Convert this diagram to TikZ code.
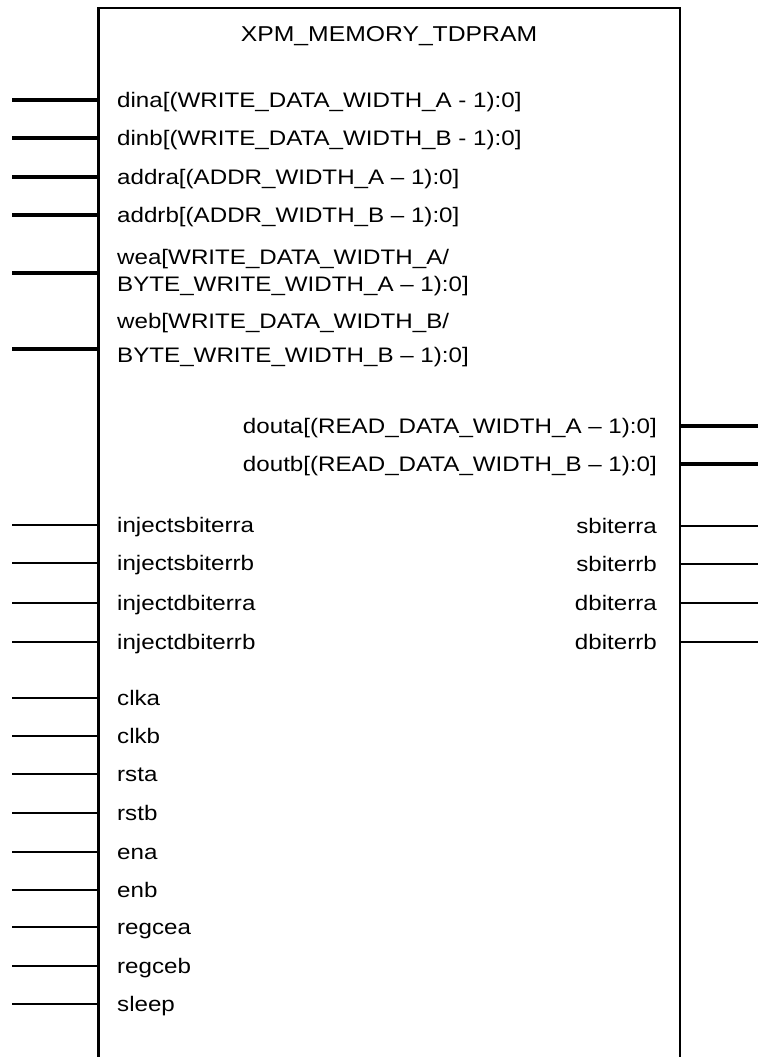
\documentclass[tikz,border=0pt]{standalone}
\usepackage{fontspec}
\setmainfont{Liberation Sans}[FakeStretch=1.15]
\usetikzlibrary{positioning}

\begin{document}
\begin{tikzpicture}[x=1pt, y=-1pt,
  body/.style={draw, line width=2.4pt, outer sep=0pt, inner sep=0pt,
               minimum width=581.7pt, minimum height=1100pt},
  lbl/.style={font=\fontsize{21}{32}\selectfont, inner sep=0pt, align=left},
  buswire/.style={line width=4pt},
  bitwire/.style={line width=1.2pt}
]
\useasboundingbox (0,0) rectangle (758,1057);

% block outline, open at the bottom of the page
\node[body, anchor=north west] (mem) at (98.3,8) {};
\node[lbl, font=\fontsize{21.5}{26}\selectfont, anchor=base] (title) at (389,42) {XPM\_MEMORY\_TDPRAM};

% input busses
\foreach \pname/\ptext/\py in {
    dina/{dina[(WRITE\_DATA\_WIDTH\_A - 1):0]}/100,
    dinb/{dinb[(WRITE\_DATA\_WIDTH\_B - 1):0]}/138,
    addra/{addra[(ADDR\_WIDTH\_A – 1):0]}/177,
    addrb/{addrb[(ADDR\_WIDTH\_B – 1):0]}/215}{
  \node[lbl, anchor=base west] (\pname) at (117,\py+7.5) {\ptext};
  \coordinate (\pname-in) at (12,\py);
  \draw[buswire] (\pname-in) -- (\pname-in -| mem.west);
}
\node[lbl, font=\fontsize{21}{27}\selectfont, anchor=base west] (wea) at (117,291)
  {wea[WRITE\_DATA\_WIDTH\_A/\\BYTE\_WRITE\_WIDTH\_A – 1):0]};
\coordinate (wea-in) at (12,273);
\draw[buswire] (wea-in) -- (wea-in -| mem.west);
\node[lbl, font=\fontsize{21}{34}\selectfont, anchor=base west] (web) at (117,362)
  {web[WRITE\_DATA\_WIDTH\_B/\\BYTE\_WRITE\_WIDTH\_B – 1):0]};
\coordinate (web-in) at (12,349);
\draw[buswire] (web-in) -- (web-in -| mem.west);

% output busses
\foreach \pname/\ptext/\py in {
    douta/{douta[(READ\_DATA\_WIDTH\_A – 1):0]}/426,
    doutb/{doutb[(READ\_DATA\_WIDTH\_B – 1):0]}/464}{
  \node[lbl, anchor=base east] (\pname) at (657,\py+7.5) {\ptext};
  \coordinate (\pname-out) at (758,\py);
  \draw[buswire] (\pname-out -| mem.east) -- (\pname-out);
}

% single-bit inputs
\foreach \pname/\py in {injectsbiterra/525, injectsbiterrb/563, injectdbiterra/603,
    injectdbiterrb/642, clka/698, clkb/736, rsta/774, rstb/813, ena/852, enb/890,
    regcea/927, regceb/966, sleep/1004}{
  \node[lbl, anchor=base west] (\pname) at (117,\py+7.5) {\pname};
  \coordinate (\pname-in) at (12,\py);
  \draw[bitwire] (\pname-in) -- (\pname-in -| mem.west);
}

% single-bit outputs
\foreach \pname/\py in {sbiterra/526, sbiterrb/564, dbiterra/603, dbiterrb/642}{
  \node[lbl, anchor=base east] (\pname) at (657,\py+7.5) {\pname};
  \coordinate (\pname-out) at (758,\py);
  \draw[bitwire] (\pname-out -| mem.east) -- (\pname-out);
}
\end{tikzpicture}
\end{document}
